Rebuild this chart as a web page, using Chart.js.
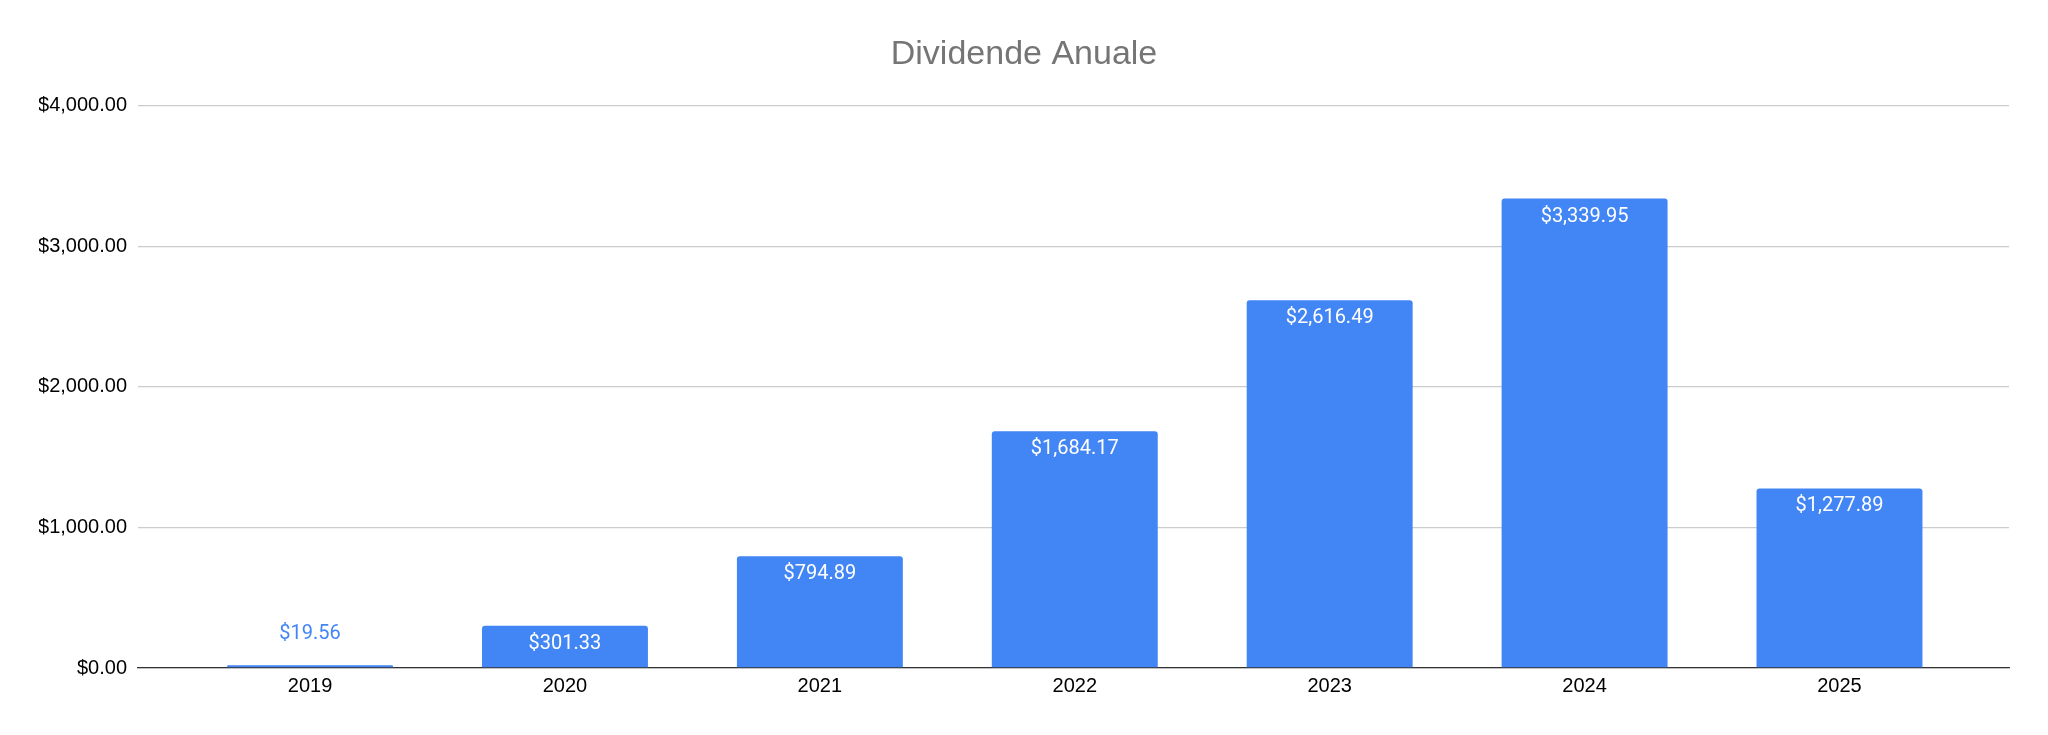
<!DOCTYPE html>
<html>
<head>
<meta charset="utf-8">
<title>Dividende Anuale</title>
<script src="https://cdn.jsdelivr.net/npm/chart.js@4.4.1/dist/chart.umd.min.js"></script>
<style>
    html, body { margin:0; padding:0; background:#fff; }
    #wrap { position:relative; width:2048px; height:735px; }
</style>
</head>
<body>
<div id="wrap"><canvas id="chart"></canvas></div>
<script>
const years   = ['2019', '2020', '2021', '2022', '2023', '2024', '2025'];
const amounts = [19.56, 301.33, 794.89, 1684.17, 2616.49, 3339.95, 1277.89];
const yTicks  = [0, 1000, 2000, 3000, 4000];

const BAR_BLUE = '#4285F4';

function money(v) {
    return '$' + v.toLocaleString('en-US', { minimumFractionDigits: 2, maximumFractionDigits: 2 });
}

// value labels: white inside the bar, blue above it when the bar is too short
const valueLabels = {
    id: 'valueLabels',
    afterDatasetsDraw(chart) {
        const ctx = chart.ctx;
        const meta = chart.getDatasetMeta(0);
        ctx.save();
        ctx.font = '20px Roboto';
        ctx.textAlign = 'center';
        ctx.textBaseline = 'middle';
        meta.data.forEach((bar, i) => {
            const h = bar.base - bar.y;
            if (h > 36) {
                ctx.fillStyle = '#ffffff';
                ctx.fillText(money(amounts[i]), bar.x, bar.y + 18);
            } else {
                ctx.fillStyle = BAR_BLUE;
                ctx.fillText(money(amounts[i]), bar.x, bar.y - 31);
            }
        });
        ctx.restore();
    }
};

new Chart(document.getElementById('chart'), {
    type: 'bar',
    data: {
        datasets: [{
            label: 'Dividende',
            data: years.map((y, i) => ({ x: i, y: amounts[i] })),
            backgroundColor: BAR_BLUE,
            borderRadius: 3,
            borderSkipped: 'start',
            categoryPercentage: 1,
            barPercentage: 0.651
        }]
    },
    options: {
        responsive: true,
        maintainAspectRatio: false,
        devicePixelRatio: 1,
        animation: false,
        // symmetric padding keeps the title centred on the page
        layout: { padding: { left: 39, right: 39, top: 0, bottom: 0 } },
        plugins: {
            legend: { display: false },
            tooltip: { enabled: false },
            title: {
                display: true,
                text: 'Dividende Anuale',
                color: '#757575',
                font: { family: '"Liberation Sans", Arial, sans-serif', size: 34, weight: 'normal', lineHeight: 1.2 },
                padding: { top: 34, bottom: 31 }
            }
        },
        scales: {
            x: {
                type: 'linear',
                offset: false,
                min: -0.675,
                max: 6.665,
                afterBuildTicks: s => { s.ticks = years.map((y, i) => ({ value: i })); },
                afterFit: s => { s.height = 67; },
                grid: { display: false, drawTicks: false, offset: false },
                border: { display: true, color: '#333333', width: 1.3 },
                ticks: {
                    autoSkip: false,
                    maxRotation: 0,
                    padding: 6,
                    color: '#000000',
                    font: { family: '"Liberation Sans", Arial, sans-serif', size: 20 },
                    callback: v => years[v]
                }
            },
            y: {
                min: 0,
                max: 4000,
                afterBuildTicks: s => { s.ticks = yTicks.map(v => ({ value: v })); },
                afterFit: s => { s.width = 99; },
                grid: { color: '#cccccc', lineWidth: 1.3, drawTicks: false },
                border: { display: false },
                ticks: {
                    padding: 11,
                    color: '#000000',
                    font: { family: '"Liberation Sans", Arial, sans-serif', size: 20 },
                    callback: v => money(v)
                }
            }
        }
    },
    plugins: [valueLabels]
});
</script>
</body>
</html>
